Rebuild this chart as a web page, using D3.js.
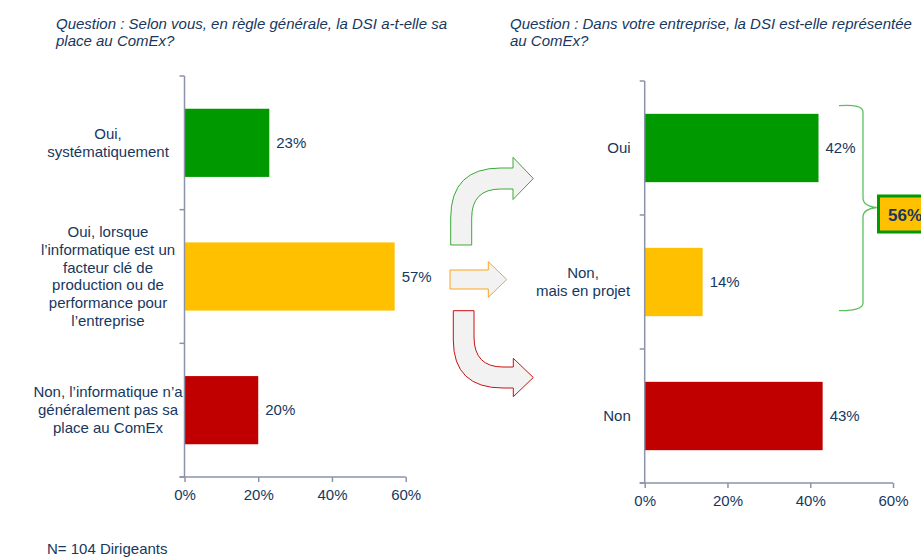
<!DOCTYPE html>
<html><head><meta charset="utf-8">
<script src="https://cdn.jsdelivr.net/npm/d3@7"></script>
<style>
body{margin:0;background:#fff;}
svg{display:block;font-family:"Liberation Sans",Arial,sans-serif;}
</style></head>
<body>
<script>
// ---- data ----
const leftTitle = ["Question : Selon vous, en règle générale, la DSI a-t-elle sa", "place au ComEx?"];
const rightTitle = ["Question : Dans votre entreprise, la DSI est-elle représentée", "au ComEx?"];
const leftCategories = [
  ["Oui,", "systématiquement"],
  ["Oui, lorsque", "l’informatique est un", "facteur clé de", "production ou de", "performance pour", "l’entreprise"],
  ["Non, l’informatique n’a", "généralement pas sa", "place au ComEx"]
];
const leftValues = [23, 57, 20];
const rightCategories = [["Oui"], ["Non,", "mais en projet"], ["Non"]];
const rightValues = [42, 14, 43];
const barColors = ["#009900", "#ffc000", "#c00000"];
const xTicks = [0, 20, 40, 60];
const totalLabel = "56%";
const footer = "N= 104 Dirigeants";

const W = 921, H = 558;
const textColor = "#17375e";
const axisColor = "#8d92ab";

const svg = d3.select("body").append("svg").attr("width", W).attr("height", H);

function titleBlock(lines, x, y) {
  const t = svg.append("text").attr("x", x).attr("y", y)
    .attr("font-size", 15).attr("font-style", "italic").attr("fill", textColor);
  lines.forEach((l, i) => t.append("tspan").attr("x", x).attr("dy", i ? 17 : 0).text(l));
}
titleBlock(leftTitle, 56, 29);
titleBlock(rightTitle, 510, 29);

function panel(cfg) {
  const keys = cfg.cats.map((c, i) => i);
  const x = d3.scaleLinear().domain([0, 60]).range([cfg.x0, cfg.x1]);
  const y = d3.scaleBand().domain(keys).range([cfg.y0, cfg.y1]);
  const g = svg.append("g");
  // bars
  g.selectAll("rect.bar").data(cfg.vals).join("rect")
    .attr("x", x(0)).attr("y", (d, i) => y(i) + y.bandwidth() * 0.245)
    .attr("width", d => x(d) - x(0)).attr("height", y.bandwidth() * 0.51)
    .attr("fill", (d, i) => barColors[i]);
  // value labels
  g.selectAll("text.val").data(cfg.vals).join("text")
    .attr("x", d => x(d) + 7).attr("y", (d, i) => y(i) + y.bandwidth() / 2 + 5)
    .attr("font-size", 15).attr("fill", textColor).text(d => d + "%");
  // y axis line + ticks at band boundaries
  g.append("line").attr("x1", x(0)).attr("x2", x(0)).attr("y1", cfg.y0).attr("y2", cfg.y1)
    .attr("stroke", axisColor).attr("stroke-width", 1.5);
  const bounds = keys.map(k => y(k)).concat([cfg.y1]);
  g.selectAll("line.yt").data(bounds).join("line")
    .attr("x1", x(0) - 5).attr("x2", x(0)).attr("y1", d => d).attr("y2", d => d)
    .attr("stroke", axisColor).attr("stroke-width", 1.5);
  // x axis
  const xa = g.append("g").attr("transform", `translate(0,${cfg.y1})`)
    .call(d3.axisBottom(x).tickValues(xTicks).tickSize(5).tickPadding(7).tickFormat(d => d + "%"));
  xa.select(".domain").attr("stroke", axisColor).attr("stroke-width", 1.5)
    .attr("d", `M${x(0) - 5},0H${x(60)}`);
  xa.selectAll(".tick line").attr("stroke", axisColor).attr("stroke-width", 1.5);
  xa.selectAll(".tick text").attr("fill", textColor).attr("font-size", 15)
    .attr("font-family", "Liberation Sans, Arial, sans-serif");
  // category labels
  cfg.cats.forEach((lines, i) => {
    const cy = y(i) + y.bandwidth() / 2;
    const lh = 17.7;
    const start = cy - (lines.length - 1) * lh / 2 + 5;
    const lx = cfg.labelX[i];
    const t = g.append("text").attr("font-size", 15).attr("fill", textColor)
      .attr("text-anchor", "middle");
    lines.forEach((l, j) => t.append("tspan").attr("x", lx).attr("y", start + j * lh).text(l));
  });
  return {x, y};
}

panel({cats: leftCategories, vals: leftValues, x0: 184.5, x1: 405.7, y0: 76, y1: 477, labelX: [108, 108, 108]});
panel({cats: rightCategories, vals: rightValues, x0: 644.7, x1: 893, y0: 81, y1: 483, labelX: [619, 583, 617]});

// arrows
const arrowFill = "#f2f2f2";
svg.append("path")
  .attr("d", "M450.7,245 L450.7,218 Q450.7,168 500.7,168 L513,168 L513,157.3 L533.3,178.5 L513,199.5 L513,189 L500.7,189 Q471.7,189 471.7,218 L471.7,245 Z")
  .attr("fill", arrowFill).attr("stroke", "#3aaa35").attr("stroke-width", 1);
svg.append("path")
  .attr("d", "M450,270 L488.3,270 L488.3,261.7 L506.7,279.5 L488.3,297.3 L488.3,289 L450,289 Z")
  .attr("fill", arrowFill).attr("stroke", "#ffa31a").attr("stroke-width", 1);
svg.append("path")
  .attr("d", "M453.3,310.7 L474,310.7 L474,337 Q474,367 503,367 L513.3,367 L513.3,358.3 L533.3,377.5 L513.3,396.7 L513.3,388 L503,388 Q453.3,388 453.3,340 Z")
  .attr("fill", arrowFill).attr("stroke", "#cc1111").attr("stroke-width", 1);

// brace
svg.append("path")
  .attr("d", "M839,105.7 Q863,104 863,112 L863,198 Q863,206 876.7,207.5 Q863,209 863,217 L863,303 Q863,311 839,310.7")
  .attr("fill", "none").attr("stroke", "#5cc05c").attr("stroke-width", 1.3);

// total box
svg.append("rect").attr("x", 878.5).attr("y", 196).attr("width", 50).attr("height", 36)
  .attr("fill", "#ffc000").attr("stroke", "#009900").attr("stroke-width", 3);
svg.append("text").attr("x", 888).attr("y", 221).attr("font-size", 17).attr("font-weight", "bold")
  .attr("fill", textColor).text(totalLabel);

// footer
svg.append("text").attr("x", 47).attr("y", 554).attr("font-size", 15).attr("fill", textColor).text(footer);
</script>
</body></html>
